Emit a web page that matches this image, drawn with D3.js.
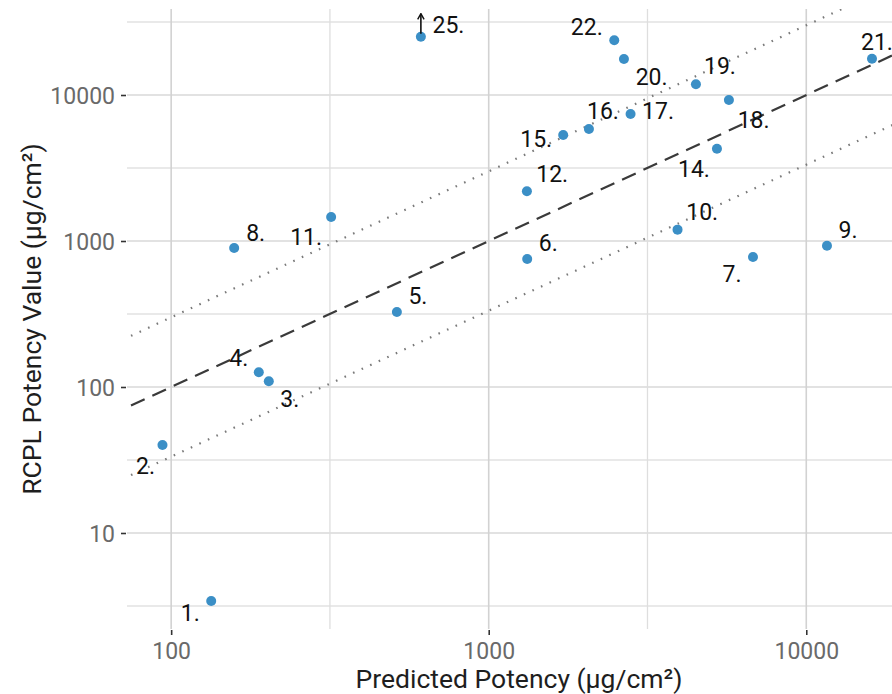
<!DOCTYPE html>
<html>
<head>
<meta charset="utf-8">
<script src="https://cdn.jsdelivr.net/npm/d3@7"></script>
<style>
  html, body { margin: 0; padding: 0; background: #ffffff; }
  svg { display: block; }
  text { font-family: Roboto, "Noto Sans", sans-serif; }
</style>
</head>
<body>
<svg id="chart" width="892" height="694"></svg>
<script>
// Sample ids (13, 23 and 24 are not shown)
const ids = [1, 2, 3, 4, 5, 6, 7, 8, 9, 10, 11, 12, 14, 15, 16, 17, 18, 19, 20, 21, 22, 25];
// Predicted potency, µg/cm²
const predicted = [133.7, 93.9, 203, 188.8, 513.8, 1322, 6795, 157.9, 11620, 3932, 319, 1319,
                   5233, 1716, 2068, 2797, 5707, 4493, 2666, 16105, 2485, 611.5];
// RCPL potency value, µg/cm²
const rcpl = [3.42, 40.1, 109.4, 126.1, 326.4, 752.9, 777, 895, 928, 1196, 1460, 2190,
              4290, 5321, 5848, 7413, 9243, 11835, 17645, 17730, 23700, 25090];
// Samples whose value lies above what is shown
const offScale = [25];

const xTicks = [100, 1000, 10000];
const yTicks = [10, 100, 1000, 10000];
// Reference lines: identity and a three-fold band
const refFactors = [1, 3, 1 / 3];

// Repelled label placement, pixels from each point
const labelNudge = {
  1: [-21, 12], 2: [-17, 21], 3: [21, 17.5], 4: [-20, -15], 5: [21, -16], 6: [21, -16],
  7: [-21, 17], 8: [21.5, -15.5], 9: [21, -16], 10: [24.7, -18], 11: [-25, 20],
  12: [25.3, -17.6], 14: [-23, 20], 15: [-27, 3.7], 16: [14, -18], 17: [27.5, -3.7],
  18: [24.7, 20], 19: [24, -19], 20: [27.7, 18.2], 21: [5, -17.4], 22: [-27.5, -14],
  25: [27.6, -12]
};

const data = ids.map((id, i) => ({ id, x: predicted[i], y: rcpl[i] }));

const svg = d3.select("#chart");
const panel = { left: 127, right: 911, top: 9, bottom: 629 };

const x = d3.scaleLog().domain([72.6, 21370]).range([panel.left, panel.right]);
const y = d3.scaleLog().domain([2.2, 38820]).range([panel.bottom, panel.top]);

const xMinor = [Math.sqrt(10) * 100, Math.sqrt(10) * 1000];
const yMinor = [Math.sqrt(10), Math.sqrt(10) * 10, Math.sqrt(10) * 100, Math.sqrt(10) * 1000, Math.sqrt(10) * 10000];

const defs = svg.append("defs");
defs.append("clipPath").attr("id", "panel-clip")
  .append("rect")
  .attr("x", panel.left).attr("y", panel.top)
  .attr("width", panel.right - panel.left).attr("height", panel.bottom - panel.top);

// Gridlines
const grid = svg.append("g");
grid.selectAll("line.ymin").data(yMinor).join("line")
  .attr("x1", panel.left).attr("x2", panel.right)
  .attr("y1", d => y(d)).attr("y2", d => y(d))
  .attr("stroke", "#e2e2e2").attr("stroke-width", 1.3);
grid.selectAll("line.ymaj").data(yTicks).join("line")
  .attr("x1", panel.left).attr("x2", panel.right)
  .attr("y1", d => y(d)).attr("y2", d => y(d))
  .attr("stroke", "#d9d9d9").attr("stroke-width", 1.6);
grid.selectAll("line.xmin").data(xMinor).join("line")
  .attr("y1", panel.top).attr("y2", panel.bottom)
  .attr("x1", d => x(d)).attr("x2", d => x(d))
  .attr("stroke", "#dedede").attr("stroke-width", 1.3);
grid.selectAll("line.xmaj").data(xTicks).join("line")
  .attr("y1", panel.top).attr("y2", panel.bottom)
  .attr("x1", d => x(d)).attr("x2", d => x(d))
  .attr("stroke", "#d2d2d2").attr("stroke-width", 1.6);

// Axes
const xAxis = d3.axisBottom(x).tickValues(xTicks).tickFormat(d3.format("d")).tickSize(5).tickPadding(7);
const yAxis = d3.axisLeft(y).tickValues(yTicks).tickFormat(d3.format("d")).tickSize(5).tickPadding(6);

const gx = svg.append("g").attr("transform", `translate(0,${panel.bottom + 1})`).call(xAxis);
const gy = svg.append("g").attr("transform", `translate(${panel.left - 1},0)`).call(yAxis);
[gx, gy].forEach(g => {
  g.select(".domain").remove();
  g.selectAll(".tick line").attr("stroke", "#333333").attr("stroke-width", 1.6);
  g.selectAll(".tick text").attr("fill", "#6a6a6a").style("font-size", "23px")
    .style("font-family", "Roboto, sans-serif");
});
gy.selectAll(".tick text").attr("dy", "0.36em");
gx.selectAll(".tick text").attr("dy", "0.74em");

// Reference lines
const xStart = x.invert(panel.left + 4), xEnd = x.invert(panel.right);
const refStyles = [
  { stroke: "#3a3a3a", width: 2.2, dash: "15,8.5" },
  { stroke: "#7a7a7a", width: 2.2, dash: "1.6,7.8" },
  { stroke: "#7a7a7a", width: 2.2, dash: "1.6,7.8" }
];
const refs = svg.append("g").attr("clip-path", "url(#panel-clip)");
refFactors.forEach((f, i) => {
  refs.append("line")
    .attr("x1", x(xStart)).attr("y1", y(xStart * f))
    .attr("x2", x(xEnd)).attr("y2", y(xEnd * f))
    .attr("stroke", refStyles[i].stroke)
    .attr("stroke-width", refStyles[i].width)
    .attr("stroke-dasharray", refStyles[i].dash);
});

// Points
svg.append("g").selectAll("circle").data(data).join("circle")
  .attr("cx", d => x(d.x)).attr("cy", d => y(d.y))
  .attr("r", 5)
  .attr("fill", "#3b8fc6");

// Arrows for off-scale samples
defs.append("marker")
  .attr("id", "arrowhead").attr("viewBox", "0 0 10 10")
  .attr("refX", 9).attr("refY", 5)
  .attr("markerWidth", 8).attr("markerHeight", 8)
  .attr("markerUnits", "userSpaceOnUse")
  .attr("orient", "auto")
  .append("path").attr("d", "M2,1 L9,5 L2,9")
  .attr("fill", "none").attr("stroke", "#111").attr("stroke-width", 1.8);
svg.append("g").selectAll("line").data(data.filter(d => offScale.includes(d.id))).join("line")
  .attr("x1", d => x(d.x)).attr("x2", d => x(d.x))
  .attr("y1", d => y(d.y) - 3).attr("y2", d => y(d.y) - 23)
  .attr("stroke", "#111").attr("stroke-width", 1.6)
  .attr("marker-end", "url(#arrowhead)");

// Point labels
svg.append("g").selectAll("text").data(data).join("text")
  .attr("x", d => x(d.x) + labelNudge[d.id][0])
  .attr("y", d => y(d.y) + labelNudge[d.id][1])
  .attr("dy", "0.36em")
  .attr("text-anchor", "middle")
  .attr("fill", "#111")
  .style("font-size", "23px")
  .text(d => d.id + ".");

// Axis titles
svg.append("text")
  .attr("x", (panel.left + panel.right) / 2).attr("y", 688)
  .attr("text-anchor", "middle").attr("fill", "#1e1e1e")
  .style("font-size", "26.5px")
  .text("Predicted Potency (µg/cm²)");
svg.append("text")
  .attr("transform", `translate(41,${(panel.top + panel.bottom) / 2}) rotate(-90)`)
  .attr("text-anchor", "middle").attr("fill", "#1e1e1e")
  .style("font-size", "26.5px")
  .text("RCPL Potency Value (µg/cm²)");
</script>
</body>
</html>
